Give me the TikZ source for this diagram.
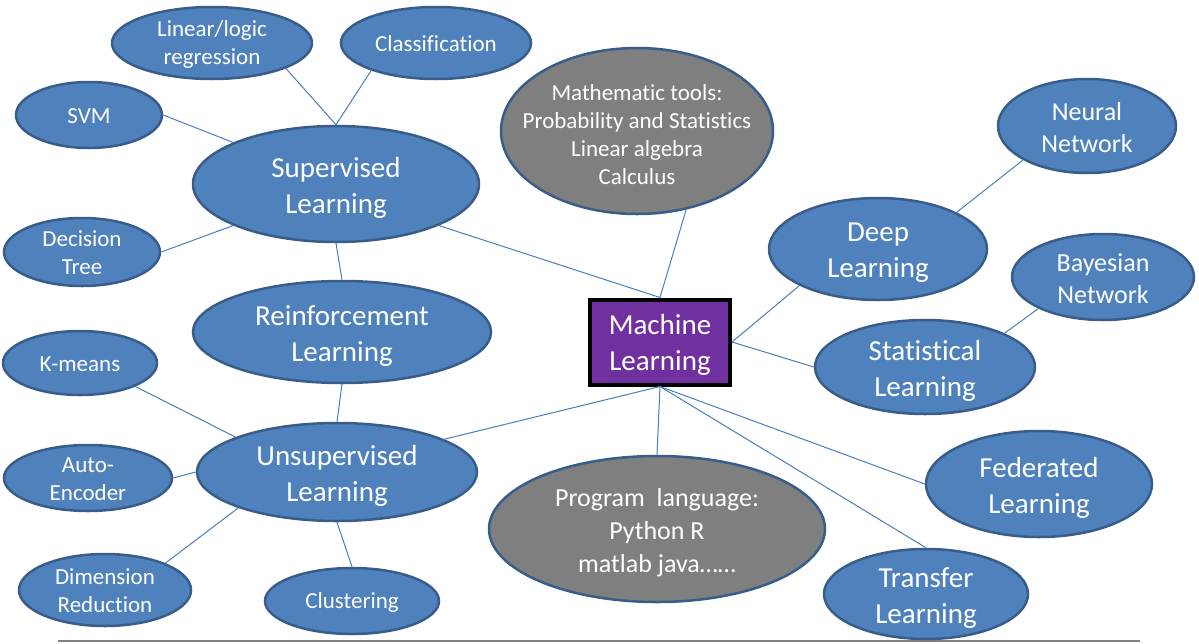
\documentclass[tikz,border=0pt]{standalone}
\usepackage{fontspec}
\setmainfont{Carlito}[Ligatures=NoCommon]
\usetikzlibrary{shapes.geometric}
\definecolor{bfill}{HTML}{4F81BD}
\definecolor{bline}{HTML}{385D8A}
\definecolor{gfill}{HTML}{7F7F7F}
\definecolor{pfill}{HTML}{7030A0}
\definecolor{conn}{HTML}{4A7EBB}
\tikzset{
  ell/.style={ellipse, draw=bline, line width=2.5pt, fill=bfill, inner sep=0pt},
  big/.style={ell},
  mid/.style={ell},
  small/.style={ell},
  grey/.style={ell, fill=gfill},
  txt/.style={text=white, align=center, inner sep=0pt},
  labbig/.style={txt, font=\fontsize{29}{36}\selectfont, yshift=-4pt},
  labmid/.style={txt, font=\fontsize{26}{32}\selectfont, yshift=-2pt},
  labsmall/.style={txt, font=\fontsize{23}{28}\selectfont, yshift=-1pt},
  labmath/.style={txt, font=\fontsize{23}{28}\selectfont, yshift=-4pt},
  labprog/.style={txt, font=\fontsize{26}{33}\selectfont, yshift=-4pt},
  link/.style={draw=conn, line width=1pt},
}
\newcommand{\E}[6]{\node[#1, minimum width=#4pt, minimum height=#5pt, label={[lab#1]center:{#6}}] (#2) at (#3) {}}
\begin{document}
\begin{tikzpicture}[x=1pt,y=-1pt]
\useasboundingbox (0,0) rectangle (1199,643);
% bottom rule
\coordinate (rl0) at (58,641);
\coordinate (rl1) at (1140,641);
\draw[draw=gray, line width=2pt] (rl0) -- (rl1);

\E{small}{lin}{212,43}{200}{72}{Linear/logic\\regression};
\E{small}{cls}{436,43}{190}{72}{Classification};
\E{small}{svm}{89,115}{146}{66}{SVM};
\E{big}{sup}{336,184}{286}{116}{Supervised\\Learning};
\E{small}{dt}{82,252}{156}{68}{Decision\\Tree};
\E{big}{rl}{342,332}{298}{102}{Reinforcement\\Learning};
\E{small}{km}{80,363}{154}{64}{K-means};
\E{small}{auto}{88,478}{168}{66}{Auto-\\Encoder};
\E{big}{uns}{337,472}{280}{98}{Unsupervised\\Learning};
\E{small}{dim}{105,590}{172}{72}{Dimension\\Reduction};
\E{small}{clu}{352,601}{174}{66}{Clustering};
\node[grey, minimum width=272pt, minimum height=166pt, label={[labmath]center:{Mathematic tools:\\Probability and Statistics\\Linear algebra\\Calculus}}] (math) at (637,131) {};
\node[grey, minimum width=336pt, minimum height=146pt, label={[labprog]center:{Program~ language:\\Python R\\matlab java……}}] (prog) at (657,529) {};
\E{mid}{nn}{1087,126}{178}{94}{Neural\\Network};
\E{big}{deep}{878,249}{218}{102}{Deep\\Learning};
\E{mid}{bay}{1103,277}{182}{86}{Bayesian\\Network};
\E{big}{stat}{925,367}{220}{94}{Statistical\\Learning};
\E{big}{fed}{1039,484}{226}{106}{Federated\\Learning};
\E{big}{tr}{926,594}{204}{90}{Transfer\\Learning};
\node[rectangle, draw=black, line width=4pt, fill=pfill, inner sep=0pt,
  minimum width=140pt, minimum height=85pt, label={[labbig, yshift=1pt]center:{Machine\\Learning}}] (ml) at (660,342) {};

% connectors
\draw[link] (lin.-19) -- (sup.north);
\draw[link] (cls.203) -- (sup.north);
\draw[link] (svm.east) -- (sup.158);
\draw[link] (dt.east) -- (sup.202);
\draw[link] (sup.south) -- (rl.north);
\draw[link] (rl.south) -- (uns.north);
\draw[link] (km.-23) -- (uns.161);
\draw[link] (auto.east) -- (uns.west);
\draw[link] (dim.24) -- (uns.200);
\draw[link] (clu.north) -- (uns.south);
\draw[link] (sup.-22) -- (ml.north);
\draw[link] (math.-58) -- (ml.north);
\draw[link] (uns.17) -- (ml.south);
\draw[link] (ml.south) -- (prog.north);
\draw[link] (ml.south) -- (fed.west);
\draw[link] (ml.south) -- (tr.north);
\draw[link] (ml.east) -- (deep.205);
\draw[link] (ml.east) -- (stat.west);
\draw[link] (deep.25) -- (nn.208);
\draw[link] (stat.23) -- (bay.206);
\end{tikzpicture}
\end{document}
